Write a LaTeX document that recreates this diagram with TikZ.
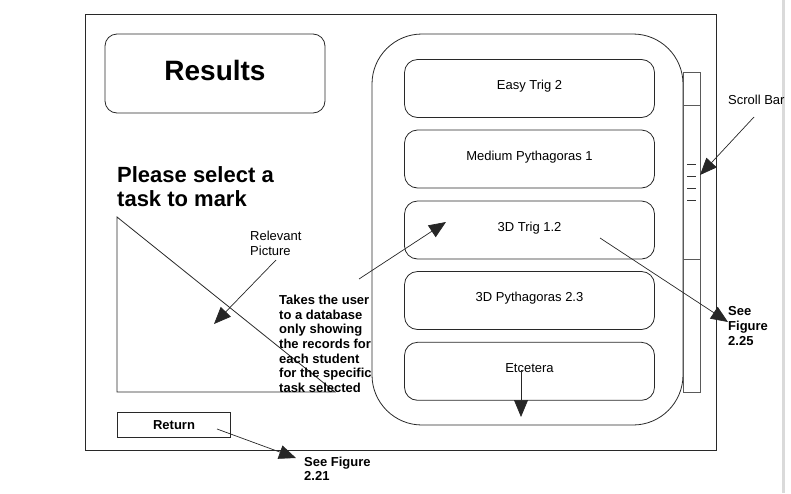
\documentclass[tikz,border=0pt]{standalone}
\usepackage{fontspec}
\setmainfont{Liberation Sans}
\usetikzlibrary{arrows.meta, positioning}
\definecolor{linegray}{RGB}{40,40,40}
\definecolor{bargray}{RGB}{90,90,90}
\definecolor{pagegray}{RGB}{218,218,218}

\begin{document}
\begin{tikzpicture}[x=1pt, y=-1pt,
    titlebox/.style={rectangle, rounded corners=12pt, draw=linegray, line width=0.8pt, minimum width=220pt, minimum height=79pt, inner sep=0pt, font=\bfseries\fontsize{28}{30}\selectfont, text height=20pt, text depth=6pt},
    item/.style={rectangle, rounded corners=13pt, draw=linegray, line width=0.8pt, minimum width=250pt, minimum height=58pt, inner sep=0pt, font=\fontsize{13}{15}\selectfont, text height=9pt, text depth=7pt},
    btn/.style={rectangle, draw=linegray, line width=0.8pt, minimum width=113pt, minimum height=25pt, inner sep=0pt, font=\bfseries\fontsize{13}{15}\selectfont, text height=13pt, text depth=3pt},
    note/.style={anchor=base west, align=left, inner sep=0pt, font=\bfseries\fontsize{13}{14.7}\selectfont},
    plain/.style={anchor=base west, align=left, inner sep=0pt, font=\fontsize{13}{15}\selectfont},
    arr/.style={-{Triangle[length=17pt, width=14pt]}, line width=0.7pt, black!85}
]
\useasboundingbox (0,0) rectangle (791,493);

% ── Page edge and frame ──
\fill[pagegray] (782,0) rectangle (784.5,493);
\draw[linegray, line width=0.8pt] (85,14) rectangle (716,450);

% ── Left column ──
\node[titlebox] (results) at (215,73.5) {Results};
% (base of a multi-line node = last line)
\node[note, font=\bfseries\fontsize{22}{24}\selectfont] (prompt) at (117,206.7) {Please select a\\task to mark};

% Picture placeholder
\draw[linegray, line width=0.8pt] (117,217) -- (117,392) -- (335,392) -- cycle;
\node[plain] (piclbl) at (250,255.7) {Relevant\\Picture};
\coordinate (pictail) at (276,260);
\coordinate (pictip) at (214,324);
\draw[arr] (pictail) -- (pictip);

% Note on selecting a task
\node[note] (takes) at (279,392.5) {Takes the user\\to a database\\only showing\\the records for\\each student\\for the specific\\task selected};

% Return button
\node[btn] (return) at (174,424.5) {Return};
\node[note] (see221) at (304,480.8) {See Figure\\2.21};
\coordinate (rettail) at (217,429);
\coordinate (rettip) at (296,458);
\draw[arr] (rettail) -- (rettip);

% ── Right: task list ──
\draw[linegray, line width=0.8pt, rounded corners=50pt] (372,34) rectangle (683,425);

\node[item] (easytrig) at (529.5,88.5) {Easy Trig 2};
\node[item] (medpyth) at (529.5,159) {Medium Pythagoras 1};
\node[item] (trigthree) at (529.5,230) {3D Trig 1.2};
\node[item] (pyththree) at (529.5,300.5) {3D Pythagoras 2.3};
\node[item] (etcetera) at (529.5,371.3) {Etcetera};

\coordinate (takestail) at (359,279);
\coordinate (takestip) at (446,222);
\draw[arr] (takestail) -- (takestip);

\coordinate (etctail) at (521,370);
\coordinate (etctip) at (521,417);
\draw[arr] (etctail) -- (etctip);

% Scroll bar
\draw[bargray, line width=0.8pt] (683,72) rectangle (700,392);
\draw[bargray, line width=0.8pt] (683,105) -- (700,105);
\draw[bargray, line width=0.8pt] (683,259) -- (700,259);
\foreach \ty in {164,176,188,200}
  \draw[black!80, line width=0.7pt] (687,\ty) -- (696,\ty);

\node[plain] (scrolllbl) at (728,104) {Scroll Bar};
\coordinate (scrolltail) at (754,117);
\coordinate (scrolltip) at (700,175);
\draw[arr] (scrolltail) -- (scrolltip);

\node[note] (see225) at (728,345.1) {See\\Figure\\2.25};
\coordinate (trigtail) at (600,238);
\coordinate (trigtip) at (728,322);
\draw[arr] (trigtail) -- (trigtip);

\end{tikzpicture}
\end{document}
